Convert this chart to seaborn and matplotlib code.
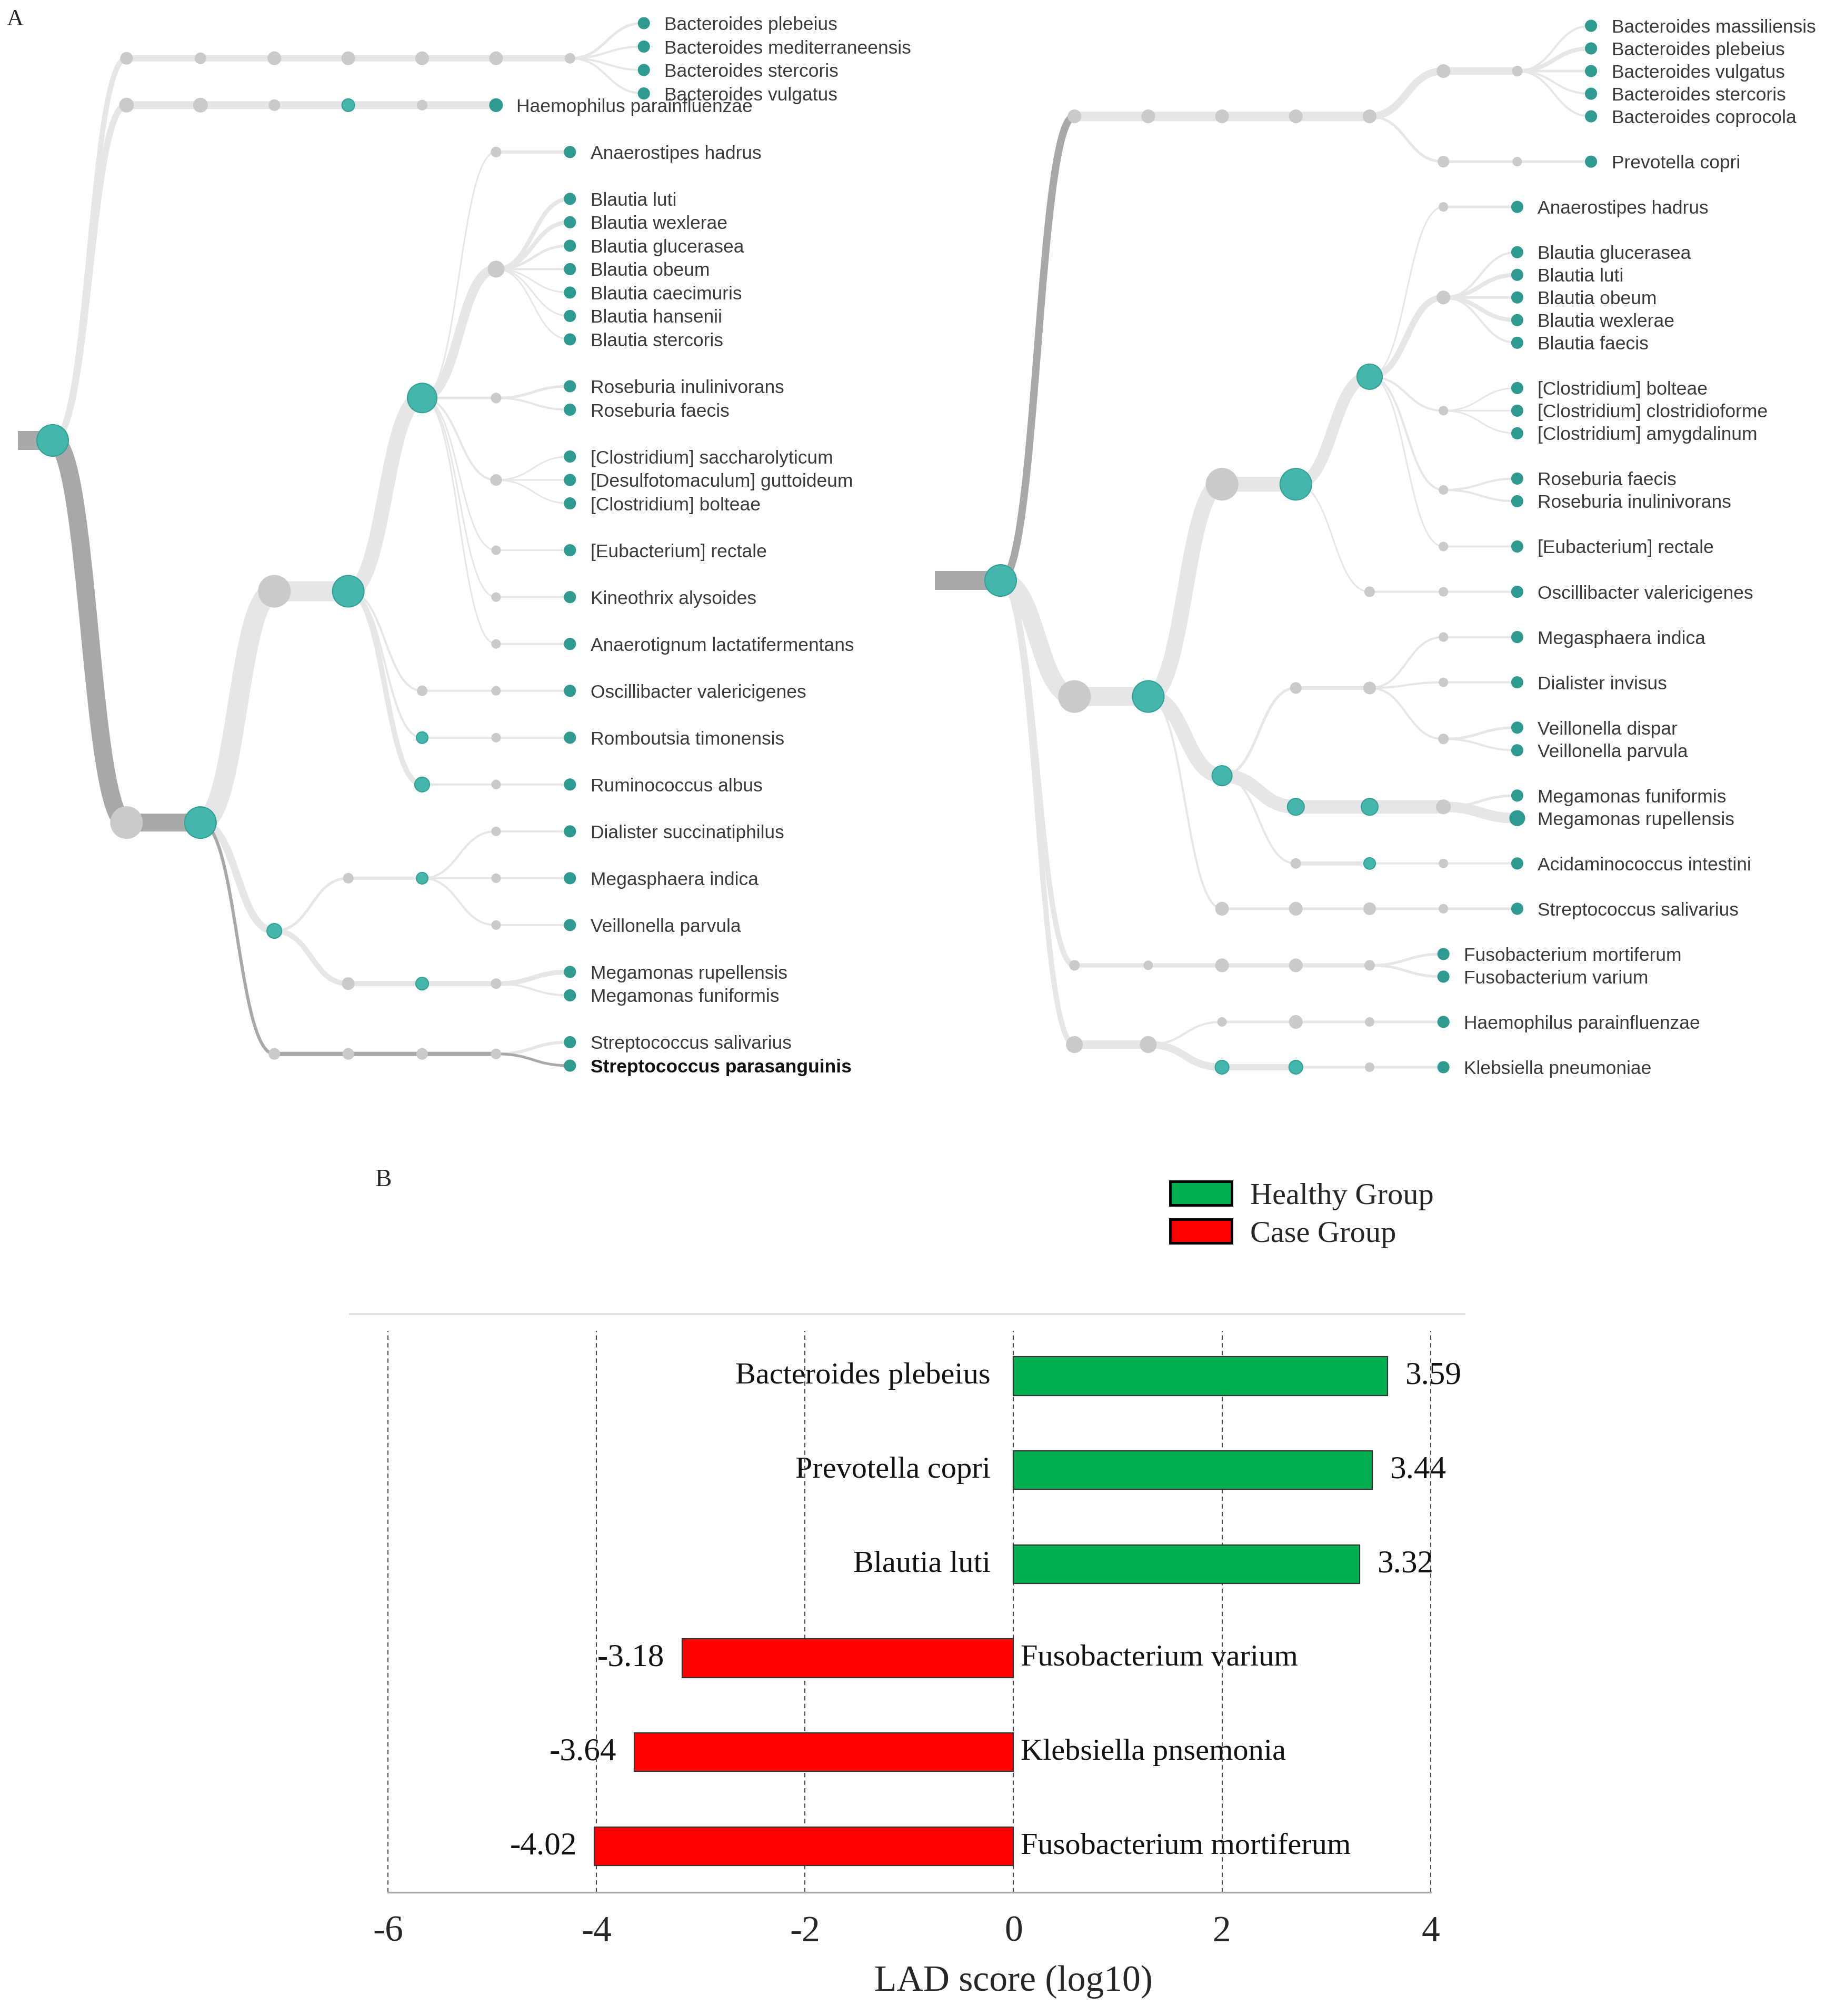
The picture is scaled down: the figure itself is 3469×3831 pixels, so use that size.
import matplotlib
matplotlib.use("Agg")
import numpy as np
import pandas as pd
import matplotlib.pyplot as plt
import seaborn as sns
from matplotlib.path import Path
from matplotlib.patches import PathPatch, Patch

sns.set_style("white")
plt.rcParams['font.family'] = ['Liberation Sans', 'DejaVu Sans']
plt.rcParams['axes.unicode_minus'] = False

# ---------------- panel A : left tree ----------------
left_leaves = [
    "Bacteroides plebeius", "Bacteroides mediterraneensis", "Bacteroides stercoris", "Bacteroides vulgatus",
    "Haemophilus parainfluenzae",
    "Anaerostipes hadrus",
    "Blautia luti", "Blautia wexlerae", "Blautia glucerasea", "Blautia obeum",
    "Blautia caecimuris", "Blautia hansenii", "Blautia stercoris",
    "Roseburia inulinivorans", "Roseburia faecis",
    "[Clostridium] saccharolyticum", "[Desulfotomaculum] guttoideum", "[Clostridium] bolteae",
    "[Eubacterium] rectale", "Kineothrix alysoides", "Anaerotignum lactatifermentans",
    "Oscillibacter valericigenes", "Romboutsia timonensis", "Ruminococcus albus",
    "Dialister succinatiphilus", "Megasphaera indica", "Veillonella parvula",
    "Megamonas rupellensis", "Megamonas funiformis",
    "Streptococcus salivarius", "Streptococcus parasanguinis",
]
left_paths = (
    ["bac1 bac2 bac3 bac4 bac5 bac6 bac7"] * 4
    + ["hae1 hae2 hae3 hae4 hae5"]
    + ["fir1 fir2 clo3 clo4 clo5 ana6"]
    + ["fir1 fir2 clo3 clo4 clo5 bla6"] * 7
    + ["fir1 fir2 clo3 clo4 clo5 ros6"] * 2
    + ["fir1 fir2 clo3 clo4 clo5 cls6"] * 3
    + ["fir1 fir2 clo3 clo4 clo5 eub6", "fir1 fir2 clo3 clo4 clo5 kin6", "fir1 fir2 clo3 clo4 clo5 anr6"]
    + ["fir1 fir2 clo3 clo4 osc5 osc6", "fir1 fir2 clo3 clo4 rom5 rom6", "fir1 fir2 clo3 clo4 rum5 rum6"]
    + ["fir1 fir2 neg3 neg4 neg5 dia6", "fir1 fir2 neg3 neg4 neg5 meg6", "fir1 fir2 neg3 neg4 neg5 vei6"]
    + ["fir1 fir2 neg3 sel4 sel5 mgm6"] * 2
    + ["fir1 fir2 str3 str4 str5 str6"] * 2
)
left_teal = ["root", "hae4", "fir2", "clo4", "clo5", "rom5", "rum5", "neg3", "neg5", "sel5"]
left_dark = ["fir1", "fir2", "str3", "str4", "str5", "str6", "Streptococcus parasanguinis"]
left_bold = ["Streptococcus parasanguinis"]
left_radius = {
    "root": 30, "bac1": 11, "bac2": 10, "bac3": 12, "bac4": 12, "bac5": 12, "bac6": 12, "bac7": 9,
    "hae1": 13, "hae2": 13, "hae3": 10, "hae4": 12, "hae5": 9, "Haemophilus parainfluenzae": 12,
    "fir1": 30, "fir2": 30, "clo3": 30, "clo4": 30, "clo5": 28,
    "ana6": 9, "bla6": 15, "ros6": 9, "cls6": 10, "eub6": 8, "kin6": 8, "anr6": 8,
    "osc5": 9, "osc6": 8, "rom5": 11, "rom6": 8, "rum5": 14, "rum6": 8,
    "neg3": 14, "neg4": 9, "neg5": 11, "dia6": 8, "meg6": 8, "vei6": 8,
    "sel4": 11, "sel5": 12, "mgm6": 9, "str3": 10, "str4": 10, "str5": 10, "str6": 9,
}
left_width = {
    "bac1": 10, "bac2": 12, "bac3": 12, "bac4": 12, "bac5": 12, "bac6": 12, "bac7": 12,
    "Bacteroides plebeius": 5,
    "hae1": 12, "hae2": 15, "hae3": 15, "hae4": 15, "hae5": 15, "Haemophilus parainfluenzae": 15,
    "fir1": 34, "fir2": 34, "clo3": 38, "clo4": 38, "clo5": 28,
    "ana6": 3, "Anaerostipes hadrus": 6,
    "bla6": 18, "Blautia luti": 8, "Blautia wexlerae": 8, "Blautia glucerasea": 5,
    "Blautia caecimuris": 3, "Blautia hansenii": 3, "Blautia stercoris": 3,
    "ros6": 5, "Roseburia inulinivorans": 5,
    "[Clostridium] saccharolyticum": 3, "[Desulfotomaculum] guttoideum": 3, "[Clostridium] bolteae": 3,
    "eub6": 3, "[Eubacterium] rectale": 3, "kin6": 3, "anr6": 3,
    "rum5": 10, "neg3": 14, "neg4": 5, "neg5": 6,
    "sel4": 10, "sel5": 10, "mgm6": 10, "Megamonas rupellensis": 9,
    "str3": 6, "str4": 8, "str5": 8, "str6": 8, "Streptococcus salivarius": 6,
    "Streptococcus parasanguinis": 5,
}

# ---------------- panel A : right tree ----------------
right_leaves = [
    "Bacteroides massiliensis", "Bacteroides plebeius", "Bacteroides vulgatus",
    "Bacteroides stercoris", "Bacteroides coprocola",
    "Prevotella copri",
    "Anaerostipes hadrus",
    "Blautia glucerasea", "Blautia luti", "Blautia obeum", "Blautia wexlerae", "Blautia faecis",
    "[Clostridium] bolteae", "[Clostridium] clostridioforme", "[Clostridium] amygdalinum",
    "Roseburia faecis", "Roseburia inulinivorans",
    "[Eubacterium] rectale",
    "Oscillibacter valericigenes",
    "Megasphaera indica", "Dialister invisus", "Veillonella dispar", "Veillonella parvula",
    "Megamonas funiformis", "Megamonas rupellensis",
    "Acidaminococcus intestini",
    "Streptococcus salivarius",
    "Fusobacterium mortiferum", "Fusobacterium varium",
    "Haemophilus parainfluenzae", "Klebsiella pneumoniae",
]
right_paths = (
    ["bct1 bct2 bct3 bct4 bct5 bac6 bac7"] * 5
    + ["bct1 bct2 bct3 bct4 bct5 pre6 pre7"]
    + ["fir1 fir2 clo3 clo4 clo5 ana6"]
    + ["fir1 fir2 clo3 clo4 clo5 bla6"] * 5
    + ["fir1 fir2 clo3 clo4 clo5 cls6"] * 3
    + ["fir1 fir2 clo3 clo4 clo5 ros6"] * 2
    + ["fir1 fir2 clo3 clo4 clo5 eub6"]
    + ["fir1 fir2 clo3 clo4 osc5 osc6"]
    + ["fir1 fir2 neg3 vei4 vei5 meg6", "fir1 fir2 neg3 vei4 vei5 dia6"]
    + ["fir1 fir2 neg3 vei4 vei5 vln6"] * 2
    + ["fir1 fir2 neg3 sel4 sel5 mgm6"] * 2
    + ["fir1 fir2 neg3 aci4 aci5 aci6"]
    + ["fir1 fir2 str3 str4 str5 str6"]
    + ["fus1 fus2 fus3 fus4 fus5"] * 2
    + ["pro1 pro2 hae3 hae4 hae5", "pro1 pro2 kle3 kle4 kle5"]
)
right_teal = ["root", "fir2", "clo4", "clo5", "neg3", "sel4", "sel5", "aci5", "kle3", "kle4"]
right_dark = ["bct1"]
right_bold = []
right_radius = {
    "root": 30, "bct1": 12, "bct2": 12, "bct3": 12, "bct4": 12, "bct5": 12,
    "bac6": 12, "bac7": 9, "pre6": 10, "pre7": 8,
    "fir1": 30, "fir2": 30, "clo3": 30, "clo4": 30, "clo5": 24,
    "ana6": 8, "bla6": 12, "cls6": 8, "ros6": 8, "eub6": 8, "osc5": 9, "osc6": 8,
    "neg3": 19, "vei4": 10, "vei5": 11, "meg6": 8, "dia6": 8, "vln6": 9,
    "sel4": 16, "sel5": 16, "mgm6": 13, "Megamonas rupellensis": 14,
    "aci4": 9, "aci5": 11, "aci6": 8, "str3": 12, "str4": 12, "str5": 11, "str6": 8,
    "fus1": 9, "fus2": 8, "fus3": 12, "fus4": 12, "fus5": 9,
    "pro1": 15, "pro2": 15, "hae3": 8, "hae4": 12, "hae5": 8, "kle3": 13, "kle4": 13, "kle5": 8,
}
right_width = {
    "bct1": 14, "bct2": 18, "bct3": 18, "bct4": 18, "bct5": 18, "bac6": 14, "bac7": 14,
    "Bacteroides plebeius": 8, "Bacteroides vulgatus": 5,
    "pre6": 5, "pre7": 5, "Prevotella copri": 5,
    "fir1": 34, "fir2": 36, "clo3": 30, "clo4": 28, "clo5": 22,
    "ana6": 3, "Anaerostipes hadrus": 5,
    "bla6": 12, "Blautia luti": 8, "Blautia wexlerae": 8, "Blautia obeum": 5,
    "[Clostridium] bolteae": 3, "[Clostridium] clostridioforme": 3, "[Clostridium] amygdalinum": 3,
    "eub6": 3, "osc5": 3,
    "neg3": 28, "vei4": 5, "vei5": 7, "Veillonella dispar": 5,
    "sel4": 26, "sel5": 26, "mgm6": 26, "Megamonas rupellensis": 20, "Megamonas funiformis": 5,
    "aci5": 8, "str4": 5, "str5": 5, "str6": 5, "Streptococcus salivarius": 5,
    "fus1": 10, "fus2": 8, "fus3": 8, "fus4": 8, "fus5": 8,
    "Fusobacterium mortiferum": 5, "Fusobacterium varium": 5,
    "pro1": 10, "pro2": 16, "hae4": 5, "hae5": 5, "Haemophilus parainfluenzae": 5,
    "kle3": 14, "kle4": 12, "kle5": 5, "Klebsiella pneumoniae": 5,
}

# ---------------- panel B : LDA bars ----------------
taxa = ["Bacteroides plebeius", "Prevotella copri", "Blautia luti",
        "Fusobacterium varium", "Klebsiella pnsemonia", "Fusobacterium mortiferum"]
lda_scores = [3.59, 3.44, 3.32, -3.18, -3.64, -4.02]
groups = ["Healthy Group", "Healthy Group", "Healthy Group", "Case Group", "Case Group", "Case Group"]
group_colors = {"Healthy Group": "#00b050", "Case Group": "#ff0000"}
x_ticks = [-6, -4, -2, 0, 2, 4]

W, H, DPI = 3469, 3831, 100
PT = 72 / DPI  # points per pixel

TEAL = "#45b6ab"
TEAL_EDGE = "#33a095"
LEAF = "#2f9a90"
GREY = "#cacaca"
LIGHT_EDGE = "#e6e6e6"
DARK_EDGE = "#a8a8a8"


def build(leaves, paths):
    children = {}
    for leaf, path in zip(leaves, paths):
        chain = ["root"] + path.split() + [leaf]
        for p, c in zip(chain[:-1], chain[1:]):
            children.setdefault(p, [])
            if c not in children[p]:
                children[p].append(c)
    return children


def tidy(children, node="root"):
    """d3-like tidy tree: siblings 1 apart, cousins 2 apart, parent centred on first/last child."""
    kids = children.get(node, [])
    if not kids:
        return {node: 0.0}, {0: [0.0, 0.0]}
    acc, placed = {}, []
    for k in kids:
        pos, cont = tidy(children, k)
        shift = 0.0
        if acc:
            shift = max(acc[d][1] - cont[d][0] + (1 if d == 0 else 2) for d in cont if d in acc)
        for d, (lo, hi) in cont.items():
            if d in acc:
                acc[d][0] = min(acc[d][0], lo + shift)
                acc[d][1] = max(acc[d][1], hi + shift)
            else:
                acc[d] = [lo + shift, hi + shift]
        placed.append((shift, pos))
    mid = (placed[0][0] + placed[-1][0]) / 2
    out = {node: 0.0}
    for shift, pos in placed:
        for m, y in pos.items():
            out[m] = y + shift - mid
    contour = {0: [0.0, 0.0]}
    for d, (lo, hi) in acc.items():
        contour[d + 1] = [lo - mid, hi - mid]
    return out, contour


def draw_tree(ax, leaves, paths, teal, dark, bold, radius, width, x0, step, y_top, y_bot, stub):
    children = build(leaves, paths)
    ypos, _ = tidy(children)
    depth = {"root": 0}
    order = ["root"]
    for n in order:
        for c in children.get(n, []):
            depth[c] = depth[n] + 1
            order.append(c)
    umin, umax = min(ypos.values()), max(ypos.values())
    X = {n: x0 + depth[n] * step for n in order}
    Y = {n: y_top + (ypos[n] - umin) / (umax - umin) * (y_bot - y_top) for n in order}

    # incoming stem
    ax.plot([x0 - stub, x0], [Y["root"], Y["root"]], color=DARK_EDGE, lw=36 * PT,
            solid_capstyle="butt", zorder=2)
    # links (horizontal cubic curves)
    for p in order:
        for c in children.get(p, []):
            xm = (X[p] + X[c]) / 2
            path = Path([(X[p], Y[p]), (xm, Y[p]), (xm, Y[c]), (X[c], Y[c])],
                        [Path.MOVETO, Path.CURVE4, Path.CURVE4, Path.CURVE4])
            is_dark = c in dark
            ax.add_patch(PathPatch(path, facecolor="none",
                                   edgecolor=DARK_EDGE if is_dark else LIGHT_EDGE,
                                   lw=width.get(c, 4) * PT, capstyle="butt",
                                   zorder=2 if is_dark else 1))
    # nodes
    leaf_set = set(leaves)
    xs, ys, ss, fc, ec = [], [], [], [], []
    for n in order:
        r = radius.get(n, 10.5 if n in leaf_set else 9)
        xs.append(X[n]); ys.append(Y[n]); ss.append((2 * r * PT) ** 2)
        if n in leaf_set:
            fc.append(LEAF); ec.append(LEAF)
        elif n in teal:
            fc.append(TEAL); ec.append(TEAL_EDGE)
        else:
            fc.append(GREY); ec.append(GREY)
    ax.scatter(xs, ys, s=ss, c=fc, edgecolors=ec, linewidths=1.5, zorder=3)
    # labels
    for n in leaves:
        ax.text(X[n] + 39, Y[n], n, fontsize=25.5, ha="left", va="center_baseline",
                color="#111111" if n in bold else "#3a3a3a",
                fontweight="bold" if n in bold else "normal", zorder=4)


fig = plt.figure(figsize=(W / DPI, H / DPI), dpi=DPI)
ax = fig.add_axes([0, 0, 1, 1])
ax.set_xlim(0, W)
ax.set_ylim(H, 0)
ax.axis("off")

draw_tree(ax, left_leaves, left_paths, left_teal, left_dark, left_bold, left_radius, left_width,
          x0=100, step=140.4, y_top=44, y_bot=2025, stub=66)
draw_tree(ax, right_leaves, right_paths, right_teal, right_dark, right_bold, right_radius, right_width,
          x0=1901, step=140.2, y_top=49, y_bot=2028, stub=125)

fig.text(29 / W, 1 - 37 / H, "A", fontsize=32, family="Liberation Serif", ha="center", va="center")
fig.text(728 / W, 1 - 2243 / H, "B", fontsize=34, family="Liberation Serif", ha="center", va="center")

# ---------------- panel B ----------------
serif = "Liberation Serif"
axb = fig.add_axes([664 / W, 1 - 3596 / H, 2119 / W, 1099 / H])
df = pd.DataFrame({"taxon": taxa, "score": lda_scores, "group": groups})
sns.barplot(data=df, x="score", y="taxon", hue="group", palette=group_colors, orient="h",
            dodge=False, width=0.41, saturation=1, edgecolor="#333333", linewidth=1.6,
            legend=False, ax=axb, zorder=3)
axb.set_xlim(-6.37, 4.33)
axb.set_ylim(5.49, -0.66)
axb.vlines(x_ticks, 5.49, -0.48, colors="#4a4a4a", linestyles=(0, (4, 3)), lw=1.5, zorder=2)

for i, (t, v) in enumerate(zip(taxa, lda_scores)):
    if v > 0:
        axb.text(-0.22, i, t, ha="right", va="center", fontsize=42, family=serif, color="#111", zorder=1)
        axb.text(v + 0.17, i, f"{v:.2f}", ha="left", va="center", fontsize=44, family=serif,
                 color="#111", zorder=1)
    else:
        axb.text(0.07, i, t, ha="left", va="center", fontsize=42, family=serif, color="#111", zorder=1)
        axb.text(v - 0.17, i, f"{v:.2f}", ha="right", va="center", fontsize=44, family=serif,
                 color="#111", zorder=1)

for side in ["left", "right"]:
    axb.spines[side].set_visible(False)
axb.spines["top"].set_color("#cfcfcf")
axb.spines["top"].set_linewidth(1.5)
axb.spines["bottom"].set_color("#a8a8a8")
axb.spines["bottom"].set_linewidth(2.4)
axb.spines["bottom"].set_bounds(-6, 4)
axb.set_xticks(x_ticks)
axb.set_xticklabels([str(t) for t in x_ticks], fontsize=50, family=serif)
axb.tick_params(axis="x", direction="out", length=18, width=2.2, color="#b5b5b5", pad=14)
axb.set_yticks([])
axb.set_ylabel("")
axb.set_xlabel("LAD score (log10)", fontsize=50, family=serif, labelpad=22)
# centre the axis title under zero, as in the source figure
axb.xaxis.label.set_x((0 - axb.get_xlim()[0]) / (axb.get_xlim()[1] - axb.get_xlim()[0]))
axb.set_facecolor("none")

handles = [Patch(facecolor=group_colors[g], edgecolor="black", linewidth=3.5, label=g)
           for g in ["Healthy Group", "Case Group"]]
fig.legend(handles=handles, loc="upper left", bbox_to_anchor=(2223 / W, 1 - 2245 / H),
           bbox_transform=fig.transFigure, frameon=False, prop={"family": serif, "size": 42},
           handlelength=2.0, handleheight=0.8, handletextpad=0.6, labelspacing=0.3,
           borderpad=0, borderaxespad=0)

fig.savefig("out.png", dpi=DPI)
